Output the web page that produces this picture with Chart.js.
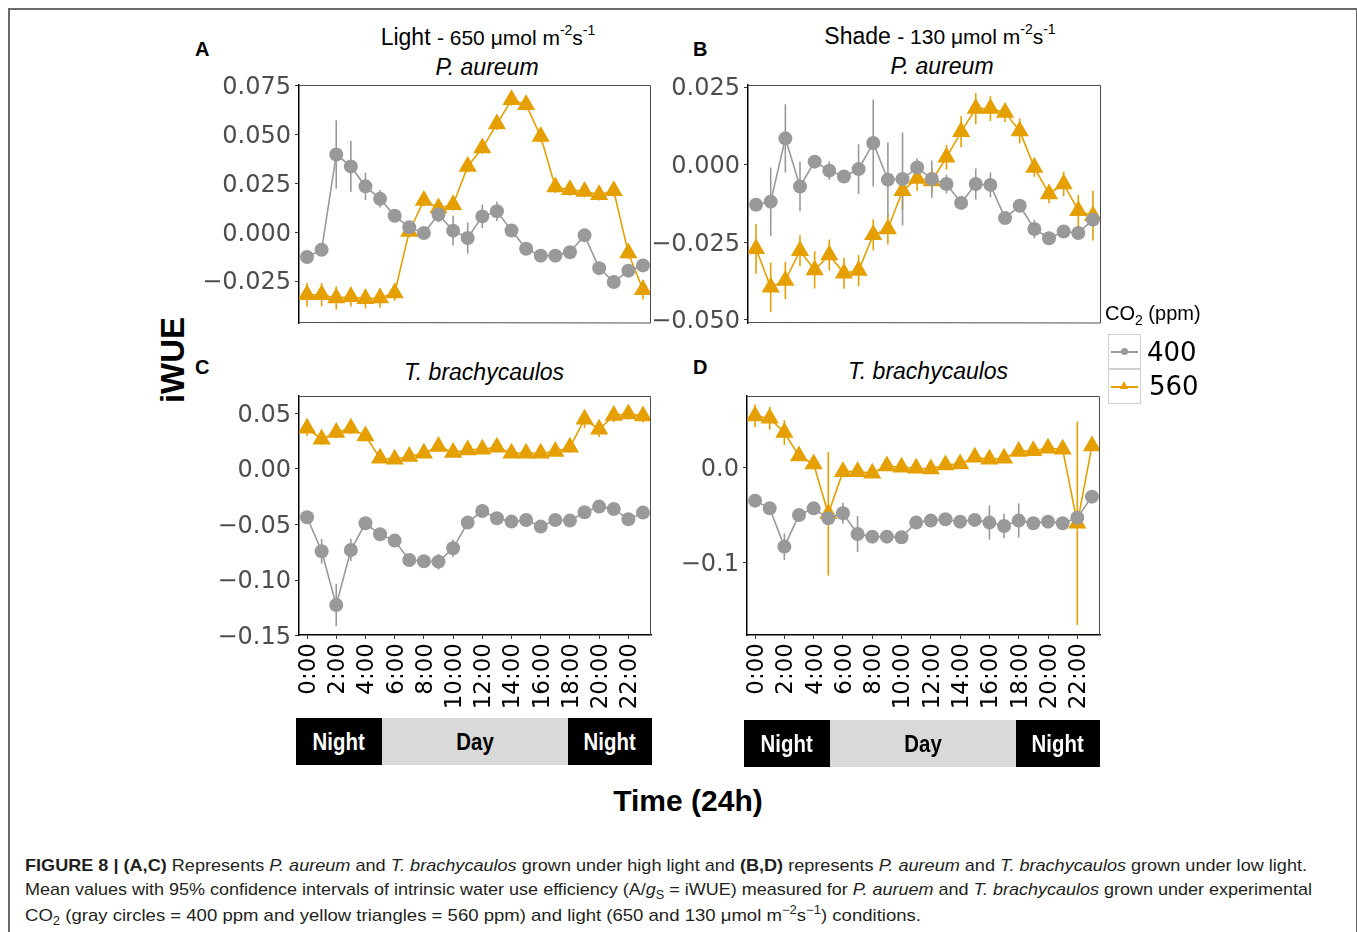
<!DOCTYPE html>
<html>
<head>
<meta charset="utf-8">
<script src="https://cdn.jsdelivr.net/npm/chart.js@4"></script>
<style>
  body { margin: 0; background: #fff; width: 1357px; height: 932px; overflow: hidden; position: relative;
         font-family: "Liberation Sans", Arial, sans-serif; color: #000; }
  .abs { position: absolute; white-space: nowrap; }
  canvas { position: absolute; }
  .frame { position: absolute; left: 8px; top: 8px; width: 1346px; height: 960px; border: 2px solid #6a6a6a; }
  .ttl { font-size: 23px; line-height: 23px; text-align: center; width: 400px; }
  .ttl .sm { font-size: 21px; }
  .ttl sup { font-size: 14px; line-height: 0; vertical-align: baseline; position: relative; top: -10px; }
  .lab { font-weight: bold; font-size: 20px; line-height: 20px; }
  .band { position: absolute; height: 47px; display: flex; align-items: center; justify-content: center;
          font-weight: bold; font-size: 24px; }
  .band span { display: inline-block; transform: scaleX(0.85); }
  .night { background: #000; color: #fff; }
  .day { background: #d9d9d9; color: #000; }
  .cap { font-size: 17px; line-height: 17px; color: #231f20; transform-origin: 0 0; }
  .cap sub, .cap sup { font-size: 12px; line-height: 0; }
  .key { position: absolute; left: 1108px; width: 31px; height: 33px; border: 1.5px solid #d0d0d0; background: #fff; }
  .key .ln { position: absolute; left: 2px; right: 2px; top: 16px; height: 1.5px; }
  .num { font-family: "DejaVu Sans", sans-serif; font-size: 26px; line-height: 26px; }
</style>
</head>
<body>
<div class="frame"></div>

<div class="abs lab" style="left:195px;top:39px">A</div>
<div class="abs lab" style="left:693px;top:39px">B</div>
<div class="abs lab" style="left:195px;top:357px">C</div>
<div class="abs lab" style="left:693px;top:357px">D</div>

<div class="abs ttl" style="left:288px;top:26px">Light <span class="sm">- 650 μmol m<sup>-2</sup>s<sup>-1</sup></span></div>
<div class="abs ttl" style="left:287px;top:56px"><i>P. aureum</i></div>
<div class="abs ttl" style="left:740px;top:25px">Shade <span class="sm">- 130 μmol m<sup>-2</sup>s<sup>-1</sup></span></div>
<div class="abs ttl" style="left:742px;top:55px"><i>P. aureum</i></div>
<div class="abs ttl" style="left:284px;top:361px"><i>T. brachycaulos</i></div>
<div class="abs ttl" style="left:728px;top:360px"><i>T. brachycaulos</i></div>

<div class="abs" style="left:172px;top:360px;transform:translate(-50%,-50%) rotate(-90deg);font-weight:bold;font-size:33px;line-height:33px">iWUE</div>

<canvas id="chartA" width="480" height="290" style="left:200px;top:55px"></canvas>
<canvas id="chartB" width="480" height="290" style="left:650px;top:55px"></canvas>
<canvas id="chartC" width="480" height="354" style="left:200px;top:366px"></canvas>
<canvas id="chartD" width="480" height="354" style="left:650px;top:366px"></canvas>

<!-- legend -->
<div class="abs" style="left:1105px;top:303px;font-size:20px;line-height:20px">CO<sub style="font-size:14px;line-height:0">2</sub> (ppm)</div>
<div class="key" style="top:334px"><div class="ln" style="background:#999"></div>
  <div style="position:absolute;left:12px;top:13px;width:7px;height:7px;border-radius:50%;background:#999"></div></div>
<div class="key" style="top:369px"><div class="ln" style="background:#E69F00"></div>
  <div style="position:absolute;left:11px;top:11px;width:0;height:0;border-left:4.5px solid transparent;border-right:4.5px solid transparent;border-bottom:8px solid #E69F00"></div></div>
<div class="abs num" style="left:1147px;top:339px">400</div>
<div class="abs num" style="left:1149px;top:373px">560</div>

<!-- day / night bands -->
<div class="band night" style="left:296px;top:718px;width:86px"><span>Night</span></div>
<div class="band day" style="left:382px;top:718px;width:186px"><span>Day</span></div>
<div class="band night" style="left:568px;top:718px;width:84px"><span>Night</span></div>
<div class="band night" style="left:744px;top:720px;width:86px"><span>Night</span></div>
<div class="band day" style="left:830px;top:720px;width:186px"><span>Day</span></div>
<div class="band night" style="left:1016px;top:720px;width:84px"><span>Night</span></div>

<div class="abs" style="left:688px;top:801px;transform:translate(-50%,-50%);font-weight:bold;font-size:30px;line-height:30px">Time (24h)</div>

<!-- caption -->
<div class="abs cap" data-w="1282" style="left:25px;top:857px"><b>FIGURE 8 | (A,C)</b> Represents <i>P. aureum</i> and <i>T. brachycaulos</i> grown under high light and <b>(B,D)</b> represents <i>P. aureum</i> and <i>T. brachycaulos</i> grown under low light.</div>
<div class="abs cap" data-w="1287" style="left:25px;top:881px">Mean values with 95% confidence intervals of intrinsic water use efficiency (A/<i>g</i><sub>S</sub> = iWUE) measured for <i>P. auruem</i> and <i>T. brachycaulos</i> grown under experimental</div>
<div class="abs cap" data-w="896" style="left:25px;top:907px">CO<sub>2</sub> (gray circles = 400 ppm and yellow triangles = 560 ppm) and light (650 and 130 μmol m<sup>−2</sup>s<sup>−1</sup>) conditions.</div>

<script>
// hours 0..23, labels every 2 h
const hours = Array.from({ length: 24 }, (_, i) => i);
const tickHours = [0, 2, 4, 6, 8, 10, 12, 14, 16, 18, 20, 22];
const tickLabels = ['0:00', '2:00', '4:00', '6:00', '8:00', '10:00', '12:00', '14:00', '16:00', '18:00', '20:00', '22:00'];

// Panel A - light, P. aureum
const grayA = [-0.0126, -0.0089, 0.0399, 0.0338, 0.0236, 0.0172, 0.0085, 0.0026, -0.0003, 0.0092, 0.0009, -0.0029,
               0.0082, 0.0108, 0.0010, -0.0084, -0.0119, -0.0119, -0.0102, -0.0015, -0.0183, -0.0254, -0.0196, -0.0169];
const grayErrA = [0.002, 0.002, 0.0175, 0.013, 0.007, 0.0045, 0.002, 0.002, 0.002, 0.004, 0.0076, 0.008,
                  0.006, 0.005, 0.003, 0.002, 0.002, 0.002, 0.002, 0.002, 0.002, 0.002, 0.002, 0.002];
const orangeA = [-0.0319, -0.0319, -0.0336, -0.033, -0.034, -0.0336, -0.031, 0.0005, 0.0164, 0.0125, 0.0142, 0.0338,
                 0.0432, 0.0555, 0.0679, 0.0654, 0.0491, 0.0232, 0.0218, 0.021, 0.0193, 0.0213, -0.0106, -0.0294];
const orangeErrA = [0.006, 0.006, 0.006, 0.005, 0.005, 0.005, 0.004, 0.003, 0.003, 0.003, 0.003, 0.003,
                    0.003, 0.003, 0.003, 0.003, 0.003, 0.003, 0.003, 0.003, 0.003, 0.003, 0.003, 0.005];
const yTicksA = [-0.025, 0, 0.025, 0.05, 0.075];

// Panel B - shade, P. aureum
const grayB = [-0.0129, -0.0119, 0.0085, -0.0070, 0.0010, -0.0019, -0.0038, -0.0014, 0.0070, -0.0048, -0.0046, -0.0009,
               -0.0046, -0.0062, -0.0123, -0.0062, -0.0065, -0.0172, -0.0132, -0.0207, -0.0237, -0.0215, -0.0220, -0.0177];
const grayErrB = [0.002, 0.011, 0.011, 0.008, 0.002, 0.003, 0.002, 0.008, 0.014, 0.012, 0.015, 0.003,
                  0.006, 0.003, 0.002, 0.005, 0.004, 0.002, 0.002, 0.003, 0.002, 0.002, 0.002, 0.002];
const orangeB = [-0.0271, -0.0395, -0.0373, -0.0277, -0.0339, -0.0291, -0.035, -0.0341, -0.0226, -0.0207, -0.0084, -0.0044,
                 -0.0052, 0.0024, 0.0106, 0.0181, 0.0181, 0.0168, 0.0109, -0.0009, -0.0094, -0.0062, -0.0148, -0.0164];
const orangeErrB = [0.008, 0.008, 0.006, 0.005, 0.006, 0.005, 0.005, 0.005, 0.005, 0.005, 0.006, 0.004,
                    0.004, 0.004, 0.005, 0.005, 0.004, 0.003, 0.004, 0.003, 0.003, 0.004, 0.005, 0.008];
const yTicksB = [-0.05, -0.025, 0, 0.025];

// Panel C - light, T. brachycaulos
const grayC = [-0.0435, -0.0741, -0.1224, -0.0729, -0.0489, -0.0588, -0.0645, -0.0819, -0.0831, -0.0834, -0.0714, -0.0483,
               -0.0378, -0.0444, -0.0474, -0.0459, -0.0519, -0.0459, -0.0465, -0.039, -0.0339, -0.036, -0.0453, -0.0393];
const grayErrC = [0.003, 0.011, 0.019, 0.01, 0.004, 0.004, 0.003, 0.004, 0.004, 0.007, 0.008, 0.004,
                  0.003, 0.003, 0.003, 0.003, 0.003, 0.003, 0.003, 0.004, 0.003, 0.003, 0.003, 0.003];
const orangeC = [0.0366, 0.0267, 0.0327, 0.0366, 0.0297, 0.0096, 0.0087, 0.0111, 0.0141, 0.0201, 0.0147, 0.0171,
                 0.0177, 0.0195, 0.0141, 0.0141, 0.0141, 0.0156, 0.0195, 0.0447, 0.0357, 0.048, 0.0495, 0.0477];
const orangeErrC = [0.007, 0.005, 0.005, 0.005, 0.004, 0.003, 0.003, 0.003, 0.003, 0.003, 0.003, 0.003,
                    0.003, 0.003, 0.003, 0.003, 0.003, 0.003, 0.005, 0.008, 0.007, 0.006, 0.005, 0.006];
const yTicksC = [-0.15, -0.10, -0.05, 0, 0.05];

// Panel D - shade, T. brachycaulos
const grayD = [-0.0351, -0.0432, -0.0835, -0.0502, -0.0432, -0.0537, -0.0484, -0.0702, -0.073, -0.073, -0.0737, -0.0582,
               -0.0561, -0.0547, -0.0572, -0.0554, -0.0582, -0.0618, -0.0561, -0.0589, -0.0572, -0.0589, -0.053, -0.0309];
const grayErrD = [0.003, 0.003, 0.014, 0.004, 0.003, 0.004, 0.011, 0.019, 0.004, 0.003, 0.003, 0.004,
                  0.004, 0.003, 0.003, 0.003, 0.018, 0.013, 0.018, 0.004, 0.003, 0.004, 0.003, 0.003];
const orangeD = [0.054, 0.0516, 0.0365, 0.0119, 0.0035, -0.049, -0.0046, -0.0046, -0.0063, 0.0014, 0.0, -0.0011,
                 -0.0018, 0.0025, 0.0035, 0.0105, 0.0084, 0.0095, 0.0165, 0.0175, 0.02, 0.0189, -0.0589, 0.0225];
const orangeErrD = [0.012, 0.012, 0.013, 0.005, 0.004, 0.065, 0.004, 0.004, 0.004, 0.003, 0.003, 0.003,
                    0.003, 0.003, 0.003, 0.003, 0.004, 0.004, 0.004, 0.004, 0.005, 0.004, 0.107, 0.005];
const yTicksD = [-0.1, 0.0];

const GRAY = '#999999';
const ORANGE = '#E69F00';

// vertical 95% CI bars, drawn under the points
const errorBars = {
    id: 'errorBars',
    beforeDatasetsDraw(chart) {
        const { ctx, chartArea, scales: { x, y } } = chart;
        ctx.save();
        ctx.beginPath();
        ctx.rect(chartArea.left, chartArea.top, chartArea.right - chartArea.left, chartArea.bottom - chartArea.top);
        ctx.clip();
        ctx.lineWidth = 1.6;
        chart.data.datasets.slice().reverse().forEach(ds => {
            ctx.strokeStyle = ds.borderColor;
            ds.data.forEach((p, i) => {
                const e = ds.errors[i];
                const px = x.getPixelForValue(p.x);
                ctx.beginPath();
                ctx.moveTo(px, y.getPixelForValue(p.y - e));
                ctx.lineTo(px, y.getPixelForValue(p.y + e));
                ctx.stroke();
            });
        });
        ctx.restore();
    }
};

// panel border (top/right, plus bottom when x axis hidden)
const panelFrame = {
    id: 'panelFrame',
    afterDraw(chart) {
        const { ctx, chartArea: a } = chart;
        ctx.save();
        ctx.strokeStyle = '#4d4d4d';
        ctx.lineWidth = 1;
        ctx.beginPath();
        ctx.moveTo(a.left, a.top + 0.5);
        ctx.lineTo(a.right - 0.5, a.top + 0.5);
        ctx.lineTo(a.right - 0.5, a.bottom);
        if (!chart.options.scales.x.display) ctx.lineTo(a.left, a.bottom - 0.5);
        ctx.stroke();
        ctx.restore();
    }
};

function fmt(v, dec) {
    return v.toFixed(dec).replace('-', '\u2212');
}

function makePanel(id, gray, grayErr, orange, orangeErr, yMin, yMax, yTicks, dec, showX, yWidth, pad) {
    const pts = arr => arr.map((v, i) => ({ x: hours[i], y: v }));
    return new Chart(document.getElementById(id), {
        type: 'line',
        data: {
            datasets: [
                {
                    label: '400',
                    data: pts(gray),
                    errors: grayErr,
                    borderColor: GRAY,
                    backgroundColor: GRAY,
                    borderWidth: 1.6,
                    pointStyle: 'circle',
                    pointRadius: 7,
                    pointBorderWidth: 0,
                    tension: 0,
                    clip: 0
                },
                {
                    label: '560',
                    data: pts(orange),
                    errors: orangeErr,
                    borderColor: ORANGE,
                    backgroundColor: ORANGE,
                    borderWidth: 1.6,
                    pointStyle: 'triangle',
                    pointRadius: 10.5,
                    pointBorderWidth: 0,
                    tension: 0,
                    clip: 0
                }
            ]
        },
        options: {
            responsive: false,
            animation: false,
            events: [],
            layout: { padding: pad },
            plugins: { legend: { display: false }, tooltip: { enabled: false } },
            scales: {
                x: {
                    type: 'linear',
                    min: -0.55,
                    max: 23.55,
                    display: showX,
                    afterBuildTicks: s => { s.ticks = tickHours.map(v => ({ value: v })); },
                    afterFit: s => { s.height = showX ? 85 : 0; },
                    ticks: {
                        autoSkip: false,
                        minRotation: 90,
                        maxRotation: 90,
                        padding: 4,
                        labelOffset: 2,
                        color: '#000',
                        font: { family: 'DejaVu Sans', size: 23 },
                        callback: (v, i) => tickLabels[i]
                    },
                    grid: { drawOnChartArea: false, drawTicks: true, tickLength: 4, color: '#333', lineWidth: 1 },
                    border: { display: true, color: '#000', width: 1.5 }
                },
                y: {
                    min: yMin,
                    max: yMax,
                    afterBuildTicks: s => { s.ticks = yTicks.map(v => ({ value: v })); },
                    afterFit: s => { s.width = yWidth; },
                    ticks: {
                        padding: 4,
                        labelOffset: 2,
                        color: '#4d4d4d',
                        font: { family: 'DejaVu Sans', size: 24 },
                        callback: v => fmt(v, dec)
                    },
                    grid: { drawOnChartArea: false, drawTicks: true, tickLength: 4, color: '#333', lineWidth: 1 },
                    border: { display: true, color: '#000', width: 1.5 }
                }
            }
        },
        plugins: [errorBars, panelFrame]
    });
}

makePanel('chartA', grayA, grayErrA, orangeA, orangeErrA, -0.0464, 0.0755, yTicksA, 3, false, 99,
    { top: 30, right: 29, bottom: 22, left: 0 });
makePanel('chartB', grayB, grayErrB, orangeB, orangeErrB, -0.051, 0.0257, yTicksB, 3, false, 98,
    { top: 30, right: 29, bottom: 22, left: 0 });
makePanel('chartC', grayC, grayErrC, orangeC, orangeErrC, -0.1494, 0.0656, yTicksC, 2, true, 99,
    { top: 30, right: 29, bottom: 0, left: 0 });
makePanel('chartD', grayD, grayErrD, orangeD, orangeErrD, -0.1765, 0.075, yTicksD, 1, true, 97,
    { top: 30, right: 30, bottom: 0, left: 0 });

// squeeze caption lines to the printed width
document.querySelectorAll('.cap').forEach(el => {
    const target = +el.dataset.w;
    const w = el.getBoundingClientRect().width;
    el.style.transform = `scaleX(${target / w})`;
});
</script>
</body>
</html>
